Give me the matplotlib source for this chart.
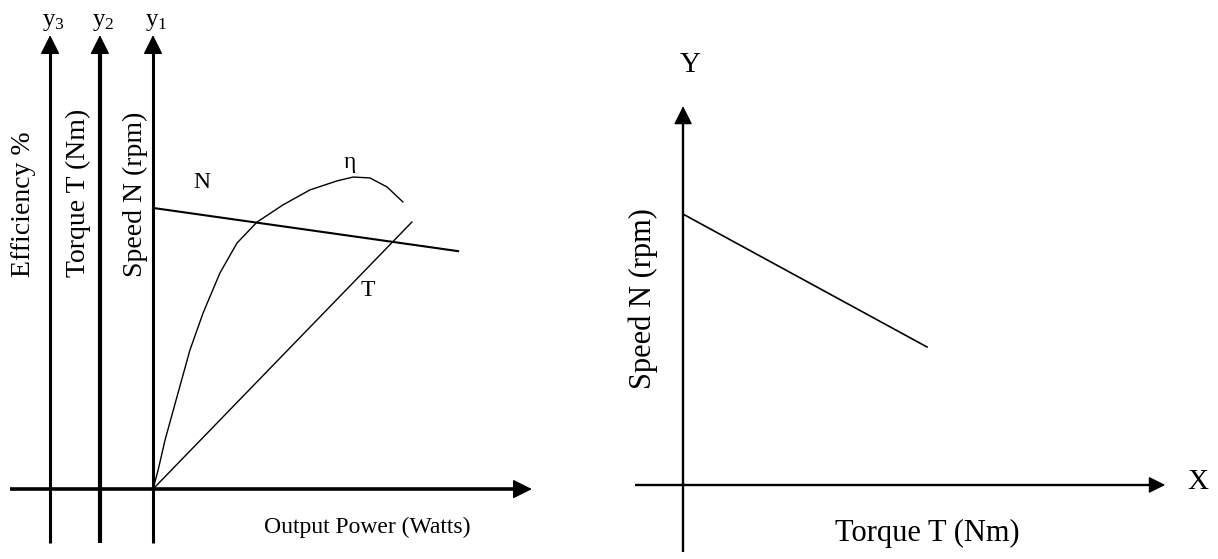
import matplotlib.pyplot as plt

plt.rcParams['font.family'] = ['Liberation Serif', 'DejaVu Serif']

# left panel: output power characteristics (arbitrary units)
n_power = [0, 101.7]
n_speed = [93.7, 79.3]

t_power = [0, 86.3]
t_torque = [0, 89.0]

eta_power = [0, 1.7, 4.0, 7.7, 12.3, 16.7, 22.3, 28.0, 34.7, 43.3, 52.3, 61.3, 66.7, 72.3, 78.0, 83.3]
eta_eff = [0, 6.3, 16.3, 29.7, 46.3, 58.7, 72.0, 82.0, 89.0, 94.7, 99.7, 102.7, 104.0, 103.7, 100.7, 95.7]

axis_names = ["$\\mathregular{y_3}$", "$\\mathregular{y_2}$", "$\\mathregular{y_1}$"]
axis_titles = ["Efficiency %", "Torque T (Nm)", "Speed N (rpm)"]

# right panel: speed vs torque
torque = [0, 81.3]
speed = [90.3, 46.0]

fig = plt.figure(figsize=(12.18, 5.59), dpi=100)


def arrow(ax, start, tip, lw, scale=20):
    ax.annotate("", xy=tip, xytext=start,
                arrowprops=dict(arrowstyle="-|>,head_length=0.6,head_width=0.3",
                                lw=lw, color="black", shrinkA=0, shrinkB=0,
                                mutation_scale=scale))


# ---- left ----
ax = fig.add_axes([0, 0, 0.5, 1])
ax.set_xlim(-51, 152)
ax.set_ylim(-23.3, 163)
ax.axis("off")

axis_x = [-34.3, -17.7, 0]
axis_lw = [2.2, 3.0, 2.2]
for xa, lw, name, title, tx in zip(axis_x, axis_lw, axis_names, axis_titles, [-43.3, -25, -6]):
    ax.plot([xa, xa], [-18, 147], color="black", lw=lw, solid_capstyle="butt")
    arrow(ax, (xa, 135), (xa, 151.3), 1.0)
    ax.text(xa + 1, 155.7, name, ha="center", va="center", fontsize=18)
    ax.text(tx, 70.7, title, rotation=90, ha="center", va="bottom", fontsize=20)

ax.plot([-47.7, 122], [0, 0], color="black", lw=2.6, solid_capstyle="butt")
arrow(ax, (110, 0), (126.3, 0), 1.0)
ax.text(71.5, -12.7, "Output Power (Watts)", ha="center", va="center", fontsize=17)

ax.plot(n_power, n_speed, color="black", lw=1.5)
ax.plot(t_power, t_torque, color="black", lw=1.0)
ax.plot(eta_power, eta_eff, color="black", lw=1.0)
ax.text(16.3, 102.3, "N", ha="center", va="center", fontsize=17)
ax.text(65.7, 108.7, "η", ha="center", va="center", fontsize=17)
ax.text(71.7, 66.3, "T", ha="center", va="center", fontsize=17)

# ---- right ----
ax2 = fig.add_axes([0.5, 0, 0.5, 1])
ax2.set_xlim(-24.7, 178.3)
ax2.set_ylim(-24.7, 161.7)
ax2.axis("off")

ax2.plot([0, 0], [-22.3, 122], color="black", lw=1.7, solid_capstyle="butt")
arrow(ax2, (0, 112), (0, 126.3), 1.0, scale=19)
ax2.plot([-16, 157], [0, 0], color="black", lw=1.7, solid_capstyle="butt")
arrow(ax2, (148, 0), (160.7, 0), 1.0, scale=17)

ax2.plot(torque, speed, color="black", lw=1.2)

ax2.text(2.3, 140, "Y", ha="center", va="center", fontsize=21)
ax2.text(171.7, 1, "X", ha="center", va="center", fontsize=21)
ax2.text(81.3, -16.3, "Torque T (Nm)", ha="center", va="center", fontsize=22)
ax2.text(-13.3, 62.3, "Speed N (rpm)", rotation=90, ha="center", va="center", fontsize=22)

fig.savefig("out.png", dpi=100)
